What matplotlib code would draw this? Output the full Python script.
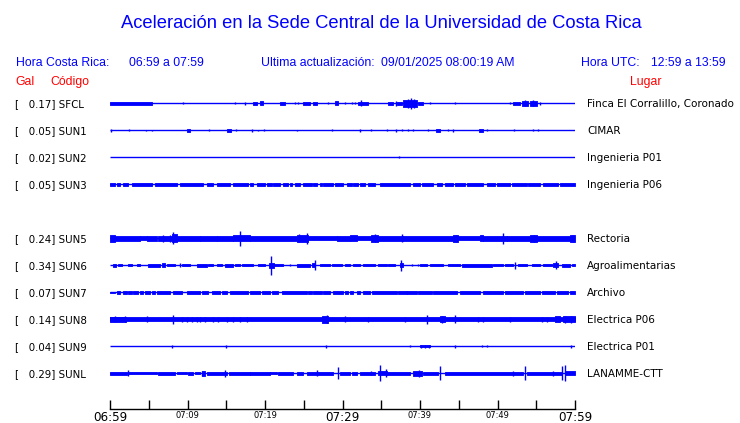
import matplotlib
matplotlib.use('Agg')
import matplotlib.pyplot as plt
from matplotlib import transforms

BLUE = '#0000ff'
RED = '#ff0000'

# time window, minutes after 06:59
window = [0, 60]
tick_minutes = list(range(0, 61, 5))
tick_labels = ['06:59', '', '07:09', '', '07:19', '', '07:29', '',
               '07:39', '', '07:49', '', '07:59']
big_ticks = ['06:59', '07:29', '07:59']

# stations (slot 4 is empty: no SUN4 trace)
codes = ['SFCL', 'SUN1', 'SUN2', 'SUN3', 'SUN5', 'SUN6', 'SUN7', 'SUN8', 'SUN9', 'SUNL']
gal = [0.17, 0.05, 0.02, 0.05, 0.24, 0.34, 0.07, 0.14, 0.04, 0.29]
places = ['Finca El Corralillo, Coronado', 'CIMAR', 'Ingenieria P01', 'Ingenieria P06',
          'Rectoria', 'Agroalimentarias', 'Archivo', 'Electrica P06', 'Electrica P01',
          'LANAMME-CTT']
rows = [0, 1, 2, 3, 5, 6, 7, 8, 9, 10]

# envelope pieces: (start min, end min, half amplitude), amplitude 27 = one row
sfcl_bursts = [(0.0, 5.4, 1.7), (18.5, 19.0, 1.3), (19.4, 19.7, 2.0), (21.9, 22.6, 1.5),
               (24.9, 25.8, 1.5), (26.2, 26.7, 1.5), (29.0, 29.4, 1.8), (32.0, 33.3, 1.6),
               (35.9, 36.5, 1.5), (37.0, 37.7, 1.6), (37.8, 39.6, 3.5), (39.7, 40.4, 1.5),
               (52.0, 52.9, 1.5), (53.2, 53.9, 2.5), (54.2, 55.1, 2.5)]
sfcl_spikes = [(9.4, 0.8), (16.1, 1.0), (17.4, 1.5), (23.9, 1.0), (24.3, 1.0), (28.1, 1.0),
               (30.3, 1.0), (31.2, 1.0), (31.6, 1.0), (32.4, 3.0), (36.9, 2.5), (38.4, 4.5),
               (38.8, 5.5), (39.2, 4.5), (41.3, 1.0), (44.5, 1.0), (51.6, 1.0), (53.6, 3.0),
               (54.6, 3.0), (55.5, 1.5)]

sun1_bursts = [(9.9, 10.3, 1.3), (15.1, 15.6, 1.3), (42.1, 42.6, 1.3), (47.6, 48.1, 1.3)]
sun1_spikes = [(0.1, 1.3), (2.5, 0.8), (4.6, 0.6), (5.4, 0.6), (12.8, 1.0), (16.3, 1.0),
               (18.3, 1.3), (19.1, 0.5), (19.9, 0.8), (24.1, 0.7), (28.6, 1.0), (32.3, 1.3),
               (33.7, 1.0), (35.7, 0.8), (36.9, 1.3), (37.7, 0.8), (38.5, 0.8), (39.1, 0.8),
               (41.0, 0.8), (43.6, 1.0), (44.3, 1.3), (48.6, 1.0), (52.1, 1.0), (54.6, 0.8),
               (55.2, 0.8)]

sun2_bursts = []
sun2_spikes = [(37.3, 0.8)]

sun3_bursts = [(0.0, 0.6, 1.3), (0.9, 1.3, 1.3), (1.7, 2.3, 1.3), (2.8, 5.4, 1.3),
               (5.8, 8.6, 1.3), (9.0, 12.0, 1.3), (12.5, 13.3, 1.3), (13.8, 15.5, 1.3),
               (15.9, 17.8, 1.3), (18.1, 18.5, 1.3), (19.0, 20.0, 1.3), (20.3, 20.9, 1.3),
               (21.0, 21.9, 1.3), (22.3, 23.0, 1.3), (23.2, 23.5, 1.3), (23.9, 24.5, 1.3),
               (24.9, 26.1, 1.3), (26.2, 26.7, 1.3), (27.1, 27.4, 1.3), (27.5, 28.8, 1.3),
               (29.0, 30.1, 1.3), (30.6, 31.2, 1.3), (31.4, 32.0, 1.3), (32.3, 32.9, 1.3),
               (33.3, 34.2, 1.3), (34.8, 38.7, 1.3), (39.1, 40.0, 1.3), (40.3, 41.7, 1.3),
               (42.2, 42.8, 1.3), (43.2, 44.3, 1.3), (44.5, 45.8, 1.3), (46.1, 48.1, 1.3),
               (48.6, 49.7, 1.3), (49.9, 51.6, 1.3), (51.9, 53.8, 1.3), (53.9, 55.5, 1.3),
               (55.9, 57.8, 1.3), (58.1, 60.0, 1.3)]
sun3_spikes = []

sun5_bursts = [(0.0, 0.6, 3.3), (0.6, 3.9, 2.5), (3.9, 4.8, 2.0), (4.8, 6.1, 2.5),
               (6.2, 8.0, 2.3), (8.0, 8.6, 4.0), (8.6, 11.6, 2.5), (11.6, 13.8, 2.3),
               (13.8, 15.9, 2.5), (15.9, 18.1, 3.0), (18.1, 24.1, 2.5), (24.1, 25.5, 3.5),
               (25.5, 29.3, 2.0), (29.3, 31.0, 2.5), (31.0, 31.9, 3.0), (31.9, 33.7, 2.0),
               (33.7, 34.6, 3.5), (34.6, 37.8, 2.3), (37.8, 44.3, 2.5), (44.3, 44.9, 3.3),
               (44.9, 47.7, 2.0), (47.7, 48.1, 3.0), (48.1, 51.2, 2.5), (51.2, 54.2, 2.5),
               (54.2, 55.1, 3.3), (55.1, 59.4, 2.5), (59.4, 60.0, 3.5)]
sun5_spikes = [(6.8, 3.5), (7.7, 3.5), (8.1, 6.0), (16.8, 7.5), (24.4, 4.0), (25.4, 5.5),
               (34.2, 4.0), (37.7, 4.0), (44.6, 3.5), (50.7, 5.5), (54.7, 3.5), (59.7, 3.5)]

sun6_bursts = [(0.4, 0.8, 1.5), (1.0, 1.5, 1.0), (2.3, 2.8, 1.0), (3.5, 3.9, 1.0),
               (4.9, 6.5, 1.2), (6.7, 7.1, 2.0), (7.4, 8.4, 1.0), (9.3, 10.3, 1.0),
               (11.2, 12.5, 1.2), (12.6, 13.3, 1.0), (13.8, 14.5, 1.0), (14.8, 15.9, 1.2),
               (16.1, 16.8, 1.0), (17.0, 18.5, 1.0), (19.1, 20.0, 1.0), (20.5, 21.2, 2.5),
               (21.0, 22.3, 1.0), (24.1, 25.8, 1.2), (26.1, 26.5, 2.0), (27.1, 28.4, 1.0),
               (28.6, 29.9, 1.0), (30.3, 31.0, 1.0), (31.4, 32.3, 1.0), (32.6, 34.2, 1.0),
               (34.6, 35.7, 1.0), (35.9, 36.8, 1.0), (37.4, 37.8, 2.0), (40.0, 40.9, 1.0),
               (41.3, 43.0, 1.0), (43.6, 45.2, 1.0), (45.4, 49.3, 1.2), (49.4, 50.7, 1.0),
               (51.0, 52.0, 1.0), (52.6, 53.8, 1.0), (54.5, 55.5, 1.0), (55.9, 57.0, 1.0),
               (57.2, 57.8, 2.0), (58.3, 59.4, 1.2), (59.6, 60.0, 1.0)]
sun6_spikes = [(9.0, 2.0), (20.8, 9.5), (23.2, 1.0), (26.4, 5.0), (37.6, 5.5), (39.0, 1.0),
               (39.7, 1.0), (52.3, 3.5), (57.5, 4.0)]

sun7_bursts = [(0.0, 0.6, 0.8), (0.9, 1.3, 1.2), (1.7, 2.2, 1.2), (2.3, 2.8, 1.2),
               (3.0, 3.6, 1.2), (3.9, 4.3, 1.2), (4.5, 5.2, 1.6), (5.4, 5.8, 1.2),
               (6.1, 7.7, 1.2), (8.1, 9.3, 1.2), (9.9, 11.6, 1.2), (11.9, 12.6, 1.2),
               (13.2, 14.2, 1.2), (14.5, 15.1, 1.2), (15.5, 17.8, 1.2), (18.1, 19.4, 1.2),
               (19.6, 20.6, 1.2), (20.9, 21.7, 1.2), (22.2, 25.4, 1.2), (25.5, 26.1, 1.2),
               (26.2, 27.4, 1.2), (27.5, 28.4, 1.2), (28.8, 30.1, 1.2), (30.3, 30.7, 1.2),
               (31.0, 31.4, 1.2), (31.9, 32.3, 1.2), (32.6, 33.5, 1.2), (33.8, 37.0, 1.2),
               (37.2, 39.6, 1.2), (39.7, 41.5, 1.2), (41.7, 44.8, 1.2), (45.2, 47.7, 1.2),
               (48.1, 50.7, 1.2), (51.0, 53.3, 1.2), (53.5, 55.5, 1.2), (55.7, 57.4, 1.2),
               (57.7, 59.1, 1.2), (59.4, 60.0, 1.6)]
sun7_spikes = [(38.3, 1.6)]

sun8_bursts = [(0.0, 60.0, 2.0), (0.0, 2.0, 2.5), (27.4, 28.1, 3.5), (42.6, 43.2, 3.0),
               (57.4, 58.1, 3.0), (58.4, 60.0, 3.0)]
sun8_spikes = [(0.6, 3.0), (1.9, 3.0), (4.8, 3.0), (8.1, 4.5), (9.3, 2.5), (9.9, 2.5),
               (10.6, 2.5), (11.2, 2.5), (11.6, 2.5), (12.3, 2.5), (13.3, 2.5), (13.9, 2.5),
               (15.1, 2.5), (15.9, 2.5), (16.8, 2.5), (17.7, 2.5), (28.0, 4.0), (30.3, 3.0),
               (33.3, 2.5), (38.1, 2.5), (40.9, 4.5), (42.8, 3.5), (44.5, 4.0), (47.5, 2.5),
               (48.1, 2.5), (51.6, 2.5), (55.7, 2.5), (56.4, 2.5), (58.7, 3.5), (59.5, 3.5)]

sun9_bursts = [(40.0, 41.3, 1.0)]
sun9_spikes = [(8.0, 1.5), (15.0, 1.3), (27.9, 1.5), (38.7, 1.0), (40.1, 1.5), (40.6, 1.5),
               (41.2, 1.5), (44.5, 1.3), (48.0, 1.0), (48.6, 1.0), (59.5, 1.3)]

sunl_bursts = [(0.0, 2.2, 1.3), (2.3, 6.1, 1.0), (6.2, 8.4, 1.3), (8.6, 9.9, 1.0),
               (10.1, 10.7, 1.8), (11.0, 11.6, 1.0), (11.9, 12.3, 2.5), (12.5, 15.1, 1.3),
               (15.4, 18.1, 1.3), (18.1, 20.6, 1.3), (20.6, 21.5, 1.0), (21.7, 23.6, 1.3),
               (24.1, 24.9, 1.3), (25.4, 28.8, 1.3), (29.7, 31.0, 1.3), (31.2, 31.9, 1.8),
               (32.3, 34.2, 1.3), (34.6, 35.7, 2.0), (35.7, 38.7, 1.3), (39.1, 40.3, 2.5),
               (40.4, 42.3, 1.3), (43.2, 53.3, 1.3), (53.8, 58.3, 1.3), (58.7, 60.0, 2.0)]
sunl_spikes = [(2.3, 3.0), (11.9, 2.5), (14.8, 3.5), (26.7, 3.0), (29.4, 6.0), (33.7, 2.0),
               (34.8, 8.0), (35.6, 4.0), (39.9, 3.5), (42.6, 7.0), (52.0, 2.5), (53.5, 7.0),
               (57.2, 2.5), (58.3, 7.0), (58.7, 8.0)]

all_bursts = [sfcl_bursts, sun1_bursts, sun2_bursts, sun3_bursts, sun5_bursts,
              sun6_bursts, sun7_bursts, sun8_bursts, sun9_bursts, sunl_bursts]
all_spikes = [sfcl_spikes, sun1_spikes, sun2_spikes, sun3_spikes, sun5_spikes,
              sun6_spikes, sun7_spikes, sun8_spikes, sun9_spikes, sunl_spikes]

W, H = 740, 423
ROW_PX = 27.0
HEAD_FONT = 'Liberation Sans'

fig = plt.figure(figsize=(W / 100, H / 100), dpi=100)
ax = fig.add_axes([110 / W, 1 - 409 / H, 465 / W, (409 - 88) / H])
ax.set_xlim(window)
ax.set_ylim((409 - 103.3) / ROW_PX, (88 - 103.3) / ROW_PX)

for row, bursts, spikes in zip(rows, all_bursts, all_spikes):
    ax.hlines(row, window[0], window[1], color=BLUE, lw=1.0)
    for s, e, h in bursts:
        ax.fill_between([s, e], row - h / ROW_PX, row + h / ROW_PX,
                        color=BLUE, lw=0.6)
    for m, h in spikes:
        ax.vlines(m, row - h / ROW_PX, row + h / ROW_PX, color=BLUE, lw=1.0)

# time axis
for side in ['top', 'left', 'right']:
    ax.spines[side].set_visible(False)
ax.spines['bottom'].set_linewidth(1.0)
ax.set_yticks([])
ax.set_xticks(tick_minutes, tick_labels)
ax.tick_params(axis='x', direction='in', length=6.5, width=1.0, pad=1.2)
for lbl in ax.get_xticklabels():
    lbl.set_fontsize(8.6 if lbl.get_text() in big_ticks else 6)

# station labels
left = transforms.blended_transform_factory(fig.transFigure, ax.transData)
left = transforms.offset_copy(left, fig=fig, y=-3.6, units='dots')
for row, g, c, p in zip(rows, gal, codes, places):
    ax.text(15 / W, row, f'[   {g:.2f}] {c}', transform=left, fontsize=7.4,
            va='baseline', ha='left', color='black')
    ax.text(587 / W, row, p, transform=left, fontsize=7.5,
            va='baseline', ha='left', color='black')

# header
def ftext(x, y, s, **kw):
    fig.text(x / W, 1 - y / H, s, family=HEAD_FONT, va='baseline', **kw)

ftext(381, 28.5, 'Aceleración en la Sede Central de la Universidad de Costa Rica',
      fontsize=13.2, color=BLUE, ha='center')
ftext(16, 66, 'Hora Costa Rica:', fontsize=8.8, color=BLUE)
ftext(129, 66, '06:59 a 07:59', fontsize=8.8, color=BLUE)
ftext(261, 66, 'Ultima actualización:', fontsize=8.8, color=BLUE)
ftext(381, 66, '09/01/2025 08:00:19 AM', fontsize=8.8, color=BLUE)
ftext(581, 66, 'Hora UTC:', fontsize=8.8, color=BLUE)
ftext(651, 66, '12:59 a 13:59', fontsize=8.8, color=BLUE)
ftext(15, 85, 'Gal', fontsize=8.8, color=RED)
ftext(50, 85, 'Código', fontsize=8.8, color=RED)
ftext(630, 85, 'Lugar', fontsize=8.8, color=RED)

fig.savefig('out.png', dpi=100)
